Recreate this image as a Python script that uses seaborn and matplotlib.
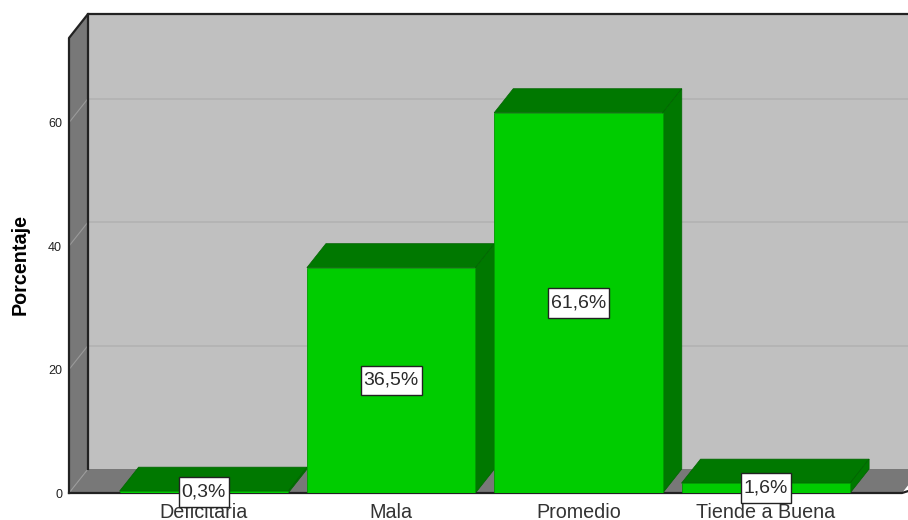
import matplotlib
matplotlib.use("Agg")
import matplotlib.pyplot as plt
import matplotlib.transforms as mtrans
from matplotlib.patches import Polygon
from matplotlib.lines import Line2D
from matplotlib.path import Path
import pandas as pd
import seaborn as sns

categories = ["Deficitaria", "Mala", "Promedio", "Tiende a Buena"]
porcentaje = [0.3, 36.5, 61.6, 1.6]
value_labels = ["0,3%", "36,5%", "61,6%", "1,6%"]
y_ticks = [0, 20, 40, 60]

WALL = "#C0C0C0"
SIDE_WALL = "#787878"
GRID = "#B2B2B2"
FRONT = "#00CC00"
DARK = "#007800"
DEPTH_X, DEPTH_Y = 19, 24

sns.set_theme(style="white")
plt.rcParams["font.family"] = ["Liberation Sans", "DejaVu Sans"]

W, H = 908, 520
fig = plt.figure(figsize=(W / 100, H / 100), dpi=100)
ax = fig.add_axes([69 / W, (H - 493) / H, (902 - 69) / W, (493 - 38) / H])

df = pd.DataFrame({"categoria": categories, "porcentaje": porcentaje})
sns.barplot(data=df, x="categoria", y="porcentaje", color=FRONT, saturation=1,
            width=0.9, edgecolor="#009A00", linewidth=0.6, ax=ax, zorder=5)
ax.set_xlim(-0.72, 3.727)
ax.set_ylim(0, 73.7)

# everything behind the front plane is the same shape shifted by the depth
back = mtrans.offset_copy(ax.transData, fig=fig, x=DEPTH_X, y=DEPTH_Y, units="dots")
x0, x1 = ax.get_xlim()
y0, y1 = ax.get_ylim()


def box(points, color, zorder, **kw):
    ax.add_patch(Polygon(points, closed=True, facecolor=color, edgecolor=kw.pop("edge", "none"),
                         linewidth=kw.pop("lw", 0), clip_on=False, zorder=zorder, **kw))


def project(x, y):
    # data position of a point on the back plane
    return ax.transData.inverted().transform(back.transform((x, y)))


def label_box(x, y, width, height, mutation_size):
    # SPSS label boxes are taller than a uniform pad gives
    pad_x, pad_y = 0.15 * mutation_size, 0.32 * mutation_size
    left, right = x - pad_x, x + width + pad_x
    bottom, top = y - pad_y, y + height + pad_y
    return Path([(left, bottom), (right, bottom), (right, top), (left, top), (left, bottom)], closed=True)


bx0, by0 = project(x0, y0)
bx1, by1 = project(x1, y1)

box([(bx0, by0), (bx1, by0), (bx1, by1), (bx0, by1)], WALL, 0.5)
box([(x0, y0), (bx0, by0), (bx0, by1), (x0, y1)], SIDE_WALL, 0.6)
box([(x0, y0), (x1, y0), (bx1, by0), (bx0, by0)], SIDE_WALL, 0.6)

for t in y_ticks[1:]:
    bx, by = project(x0, t)
    ax.add_line(Line2D([bx, bx1], [by, by], color=GRID, lw=1.2, zorder=0.7, clip_on=False))
    ax.add_line(Line2D([x0, bx], [t, by], color="#9A9A9A", lw=0.8, zorder=0.7, clip_on=False))
ax.add_line(Line2D([x0, bx0], [y0, by0], color="#9A9A9A", lw=0.8, zorder=0.7, clip_on=False))

# frame of the box
frame = dict(color="#222222", lw=1.6, zorder=1, clip_on=False, solid_capstyle="projecting")
ax.add_line(Line2D([x0, x0, bx0, bx1], [y0, y1, by1, by1], **frame))
ax.add_line(Line2D([bx0, bx0], [by0, by1], **frame))
ax.add_line(Line2D([bx1, x1, x0], [by0 * 0.25, y0, y0], **{**frame, "zorder": 4}))

for bar, label in zip(ax.patches[:len(categories)], value_labels):
    left, right = bar.get_x(), bar.get_x() + bar.get_width()
    top = bar.get_height()
    bl, bt = project(left, top)
    br, _ = project(right, top)
    _, bb = project(right, 0)
    box([(left, top), (right, top), (br, bt), (bl, bt)], DARK, 3, edge="#006400", lw=0.5)
    box([(right, 0), (br, bb), (br, bt), (right, top)], DARK, 3, edge="#006400", lw=0.5)
    ax.text(left + bar.get_width() / 2, top / 2, label, ha="center", va="center",
            fontsize=14, color="#2A2A2A", zorder=8, clip_on=False,
            bbox=dict(boxstyle=label_box, facecolor="white", edgecolor="#222222", linewidth=1))

ax.set_xlabel("")
ax.set_ylabel("Porcentaje", fontsize=14.2, fontweight="bold", color="black")
ax.yaxis.set_label_coords(-0.047, 0.503)
ax.set_yticks(y_ticks)
ax.tick_params(axis="y", length=0, pad=5, labelsize=9, labelcolor="#222222")
ax.tick_params(axis="x", length=0, pad=7, labelsize=14.2, labelcolor="#333333")
for label in ax.get_xticklabels():
    label.set_zorder(7)
for spine in ax.spines.values():
    spine.set_visible(False)

fig.savefig("out.png", dpi=100)
